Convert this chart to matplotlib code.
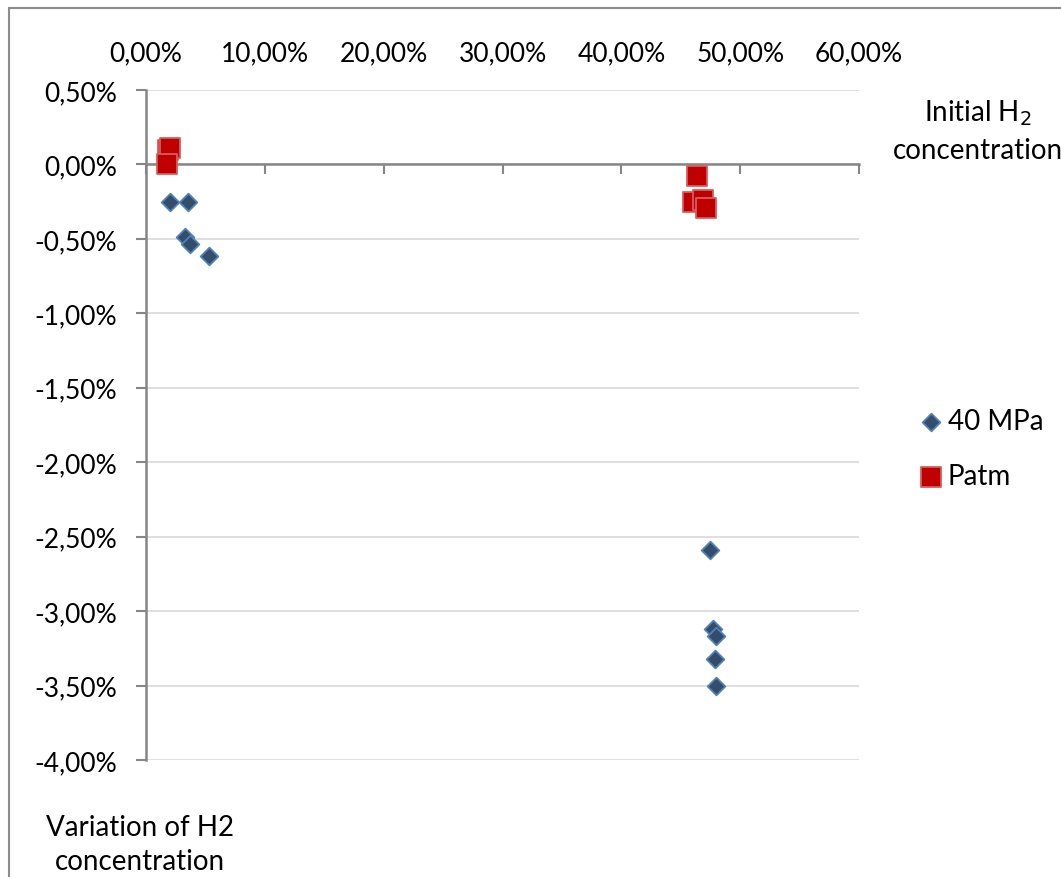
import matplotlib
matplotlib.use("Agg")
import matplotlib.pyplot as plt
from matplotlib.ticker import FuncFormatter, MultipleLocator
from matplotlib.patches import Rectangle

plt.rcParams['font.family'] = ['Lato', 'DejaVu Sans']

# Data (percent units)
mpa40_x = [2.0, 3.55, 3.3, 3.7, 5.3, 47.5, 47.75, 47.95, 47.85, 47.95]
mpa40_y = [-0.25, -0.25, -0.49, -0.535, -0.615, -2.59, -3.12, -3.17, -3.32, -3.505]
patm_x = [1.85, 2.0, 1.75, 46.4, 46.0, 46.85, 47.1]
patm_y = [0.10, 0.11, 0.00, -0.077, -0.25, -0.24, -0.29]

series_labels = ["40 MPa", "Patm"]
x_label = "Initial H$_2$\nconcentration"
y_label = "Variation of H2\nconcentration"

W, H = 1061, 878
fig = plt.figure(figsize=(W / 100, H / 100), dpi=100)
ax = fig.add_axes([146 / W, 1 - 761 / H, (859 - 146) / W, (761 - 91) / H])

ax.scatter(mpa40_x, mpa40_y, marker='D', s=9.0 ** 2, facecolor='#344D6B',
           edgecolor='#4F81BD', linewidth=1.3, zorder=3, label=series_labels[0])
ax.scatter(patm_x, patm_y, marker='s', s=14.0 ** 2, facecolor='#C00000',
           edgecolor='#D45F5F', linewidth=1.3, zorder=3, label=series_labels[1])

ax.set_xlim(0, 60)
ax.set_ylim(-4.0, 0.5)
ax.xaxis.set_major_locator(MultipleLocator(10))
ax.yaxis.set_major_locator(MultipleLocator(0.5))

def fmt(v, pos):
    if abs(v) < 1e-9:
        v = 0.0
    return f"{v:.2f}%".replace('.', ',')

ax.xaxis.set_major_formatter(FuncFormatter(fmt))
ax.yaxis.set_major_formatter(FuncFormatter(fmt))

for s in ['top', 'right']:
    ax.spines[s].set_visible(False)
ax.spines['left'].set_color('#868686')
ax.spines['left'].set_linewidth(1.8)
ax.spines['bottom'].set_position(('data', 0))
ax.spines['bottom'].set_color('#868686')
ax.spines['bottom'].set_linewidth(1.8)

ax.tick_params(axis='y', direction='out', length=7, width=1.5, color='#868686',
               labelsize=19, pad=14, labelcolor='#000000')
ax.tick_params(axis='x', direction='out', length=7, width=1.5, color='#868686',
               labelsize=19, bottom=True, top=False, labelbottom=False,
               labeltop=True, pad=11, labelcolor='#000000')

ax.yaxis.grid(True, color='#D9D9D9', linewidth=1.2, zorder=0)
ax.set_axisbelow(True)

fig.text(978 / W, 1 - 131 / H, x_label, ha='center', va='center', fontsize=20,
         linespacing=1.45)
fig.text(140 / W, 1 - 845 / H, y_label, ha='center', va='center', fontsize=20,
         linespacing=1.4)

ax.legend(loc='upper left', bbox_to_anchor=(906 / W, 1 - 398 / H),
          bbox_transform=fig.transFigure, frameon=False, fontsize=20,
          handletextpad=0.1, labelspacing=1.05, borderaxespad=0, handlelength=1.0,
          scatterpoints=1)

fig.add_artist(Rectangle((9 / W, -0.1), 1.2, 1 - 9 / H + 0.1,
                         transform=fig.transFigure, fill=False,
                         edgecolor='#8C8C8C', linewidth=1.5))

fig.savefig("out.png", dpi=100)
